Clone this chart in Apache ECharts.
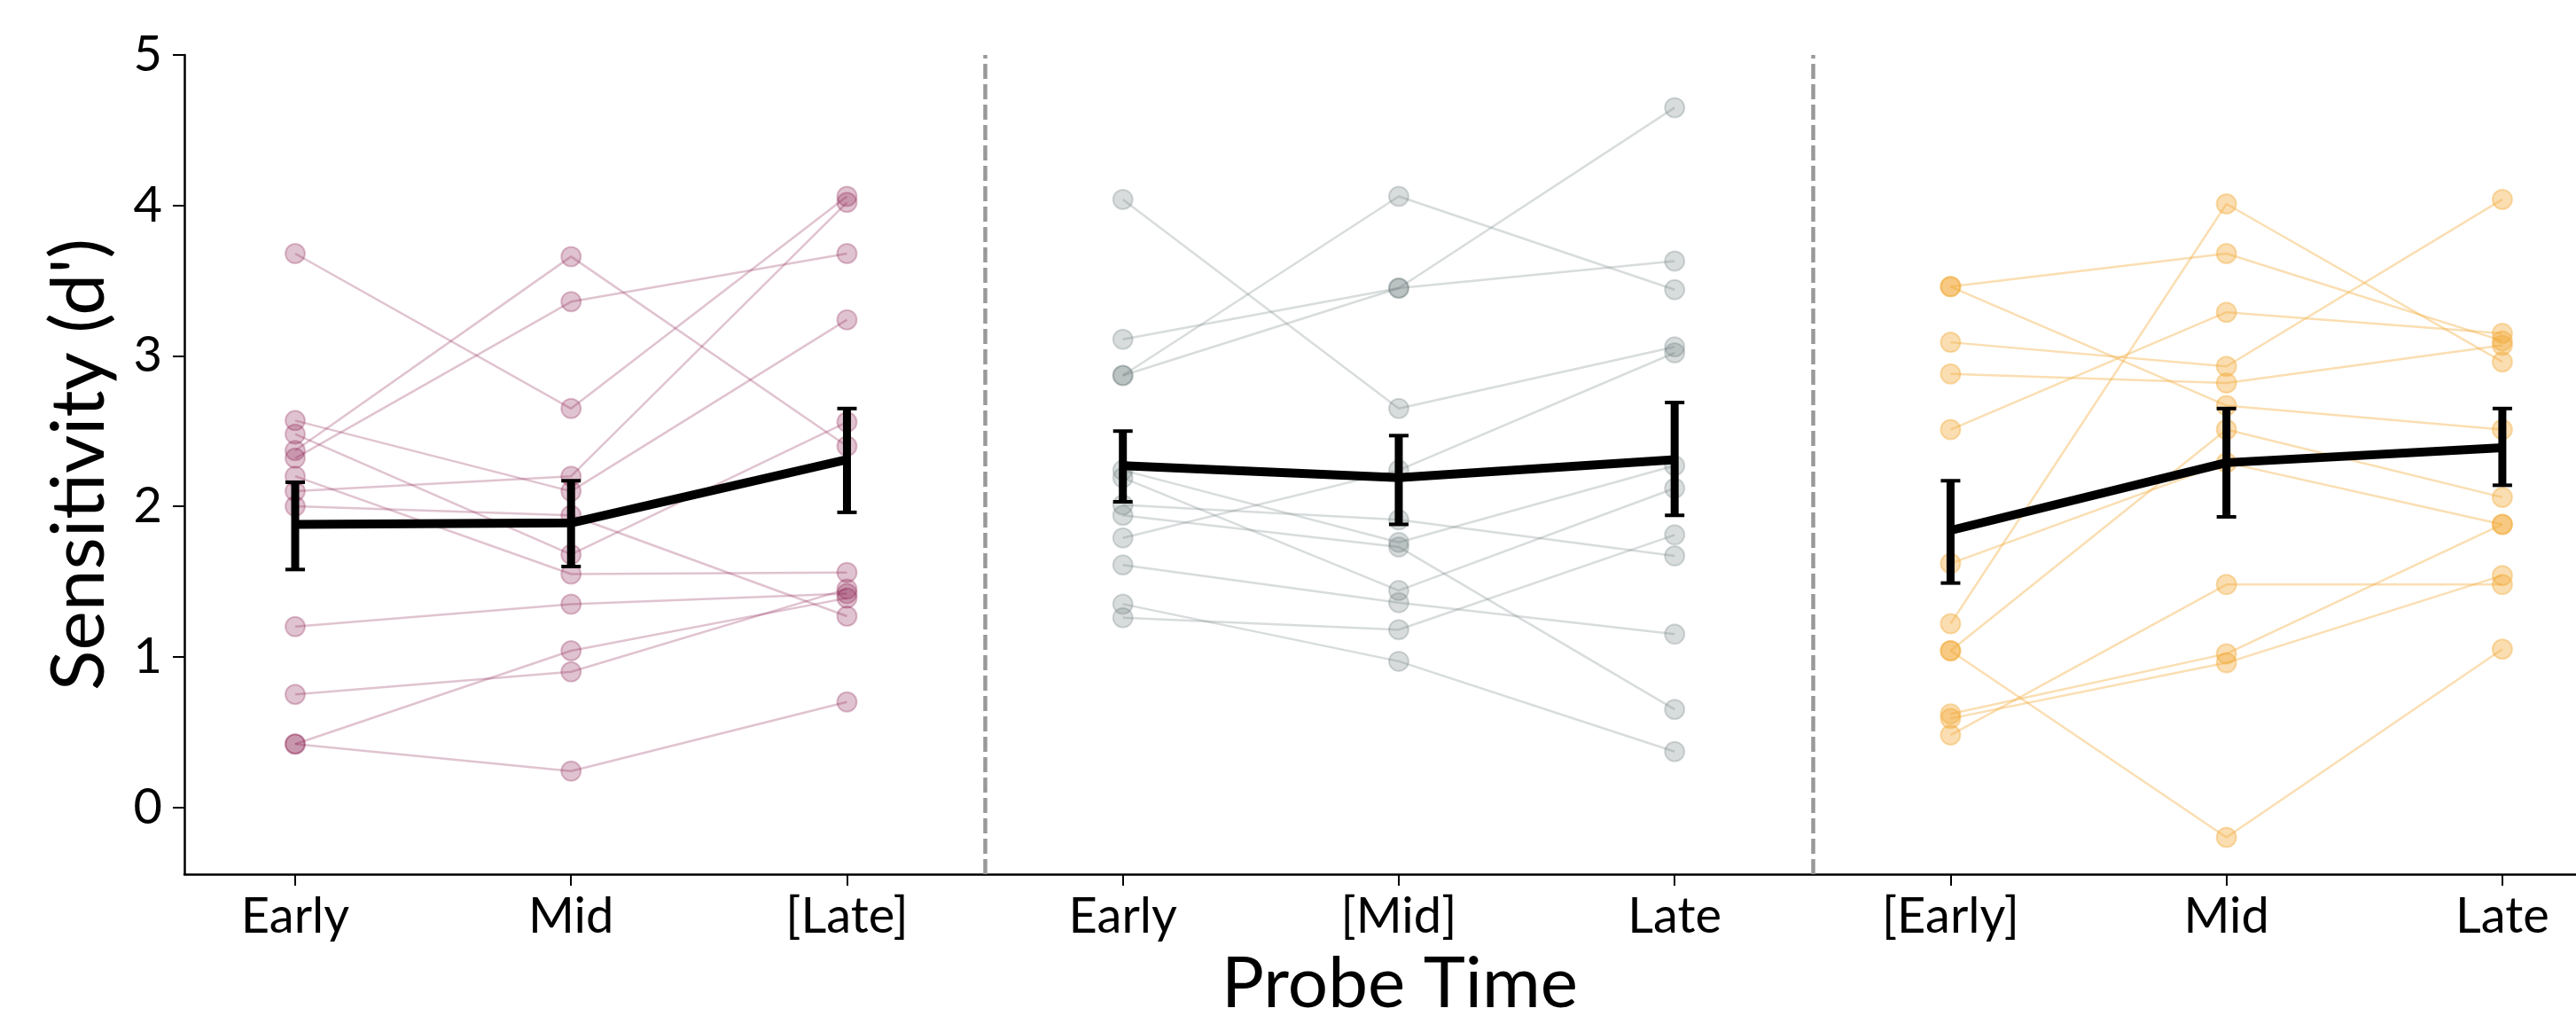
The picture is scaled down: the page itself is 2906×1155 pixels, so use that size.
<!DOCTYPE html>
<html>
<head>
    <meta charset="UTF-8">
    <title>Sensitivity by probe time</title>
    <script type="text/javascript" src="https://cdn.jsdelivr.net/npm/echarts@6/dist/echarts.min.js"></script>
</head>
<body style="margin: 0">
<div id="container" style="width: 2906px; height: 1155px"></div>
<script type="text/javascript">
    // tick labels along the shared x axis (three panels of three)
    const tickLabels = ['Early', 'Mid', '[Late]', 'Early', '[Mid]', 'Late', '[Early]', 'Mid', 'Late'];
    const yTicks = [0, 1, 2, 3, 4, 5];

    // one row per subject: [Early, Mid, Late]
    const panel1 = [
        [3.68, 2.65, 4.06], [2.37, 3.66, 2.40], [2.32, 3.36, 3.68], [2.10, 2.20, 4.02],
        [2.57, 2.10, 3.24], [2.48, 1.68, 2.56], [2.20, 1.55, 1.56], [2.00, 1.94, 1.27],
        [1.20, 1.35, 1.42], [0.75, 0.90, 1.45], [0.42, 1.04, 1.39], [0.42, 0.24, 0.70]
    ];
    const panel2 = [
        [4.04, 2.65, 3.06], [2.87, 4.06, 3.44], [3.11, 3.45, 3.63], [2.87, 3.45, 4.65],
        [1.79, 2.24, 3.02], [2.24, 1.76, 2.27], [2.19, 1.44, 2.12], [2.01, 1.91, 1.67],
        [1.94, 1.73, 0.65], [1.61, 1.36, 1.15], [1.35, 0.97, 0.37], [1.26, 1.18, 1.81]
    ];
    const panel3 = [
        [3.46, 3.68, 3.10], [3.46, 2.67, 2.51], [3.09, 2.93, 4.04], [2.88, 2.82, 3.07],
        [2.51, 3.29, 3.15], [1.22, 4.01, 2.96], [1.04, 2.51, 2.06], [1.62, 2.29, 1.88],
        [1.04, -0.20, 1.05], [0.62, 1.02, 1.88], [0.59, 0.96, 1.54], [0.48, 1.48, 1.48]
    ];

    // group means and error bar ends
    const mean1 = [1.88, 1.89, 2.31];
    const errLow1 = [1.58, 1.60, 1.96];
    const errHigh1 = [2.16, 2.17, 2.65];
    const mean2 = [2.27, 2.19, 2.31];
    const errLow2 = [2.03, 1.88, 1.94];
    const errHigh2 = [2.50, 2.47, 2.69];
    const mean3 = [1.84, 2.29, 2.39];
    const errLow3 = [1.49, 1.93, 2.14];
    const errHigh3 = [2.17, 2.65, 2.65];

    const panels = [panel1, panel2, panel3];
    const means = [mean1, mean2, mean3];
    const lows = [errLow1, errLow2, errLow3];
    const highs = [errHigh1, errHigh2, errHigh3];
    const colors = ['rgba(139, 34, 82, 0.27)', 'rgba(100, 116, 116, 0.25)', 'rgba(242, 168, 52, 0.38)'];

    const font = 'Lato';
    const series = [];

    panels.forEach(function (rows, p) {
        rows.forEach(function (row) {
            series.push({
                type: 'line',
                data: row.map((v, i) => [p * 3 + i, v]),
                symbol: 'circle',
                symbolSize: 22,
                showSymbol: true,
                lineStyle: {color: colors[p], width: 2.5},
                itemStyle: {color: colors[p], borderColor: colors[p], borderWidth: 2},
                emphasis: {disabled: true},
                z: 2
            });
        });
    });

    panels.forEach(function (rows, p) {
        series.push({
            type: 'line',
            data: means[p].map((v, i) => [p * 3 + i, v]),
            showSymbol: false,
            lineStyle: {color: '#000', width: 10},
            emphasis: {disabled: true},
            z: 5,
            markLine: p === 0 ? {
                silent: true,
                symbol: 'none',
                label: {show: false},
                lineStyle: {color: '#999', width: 4.5, type: [17, 6]},
                data: [{xAxis: 2.5}, {xAxis: 5.5}]
            } : undefined
        });
        series.push({
            type: 'custom',
            data: means[p].map((v, i) => [p * 3 + i, lows[p][i], highs[p][i]]),
            encode: {x: 0, y: [1, 2]},
            z: 6,
            renderItem: function (params, api) {
                const top = api.coord([api.value(0), api.value(2)]);
                const bot = api.coord([api.value(0), api.value(1)]);
                const cap = 11;
                return {
                    type: 'group',
                    children: [
                        {type: 'line', shape: {x1: top[0], y1: top[1], x2: bot[0], y2: bot[1]}, style: {stroke: '#000', lineWidth: 9}},
                        {type: 'line', shape: {x1: top[0] - cap, y1: top[1], x2: top[0] + cap, y2: top[1]}, style: {stroke: '#000', lineWidth: 4}},
                        {type: 'line', shape: {x1: bot[0] - cap, y1: bot[1], x2: bot[0] + cap, y2: bot[1]}, style: {stroke: '#000', lineWidth: 4}}
                    ]
                };
            }
        });
    });

    const dom = document.getElementById('container');
    const myChart = echarts.init(dom);
    const option = {
        animation: false,
        backgroundColor: '#fff',
        grid: {left: 208, right: 0, top: 62, bottom: 163},
        xAxis: {
            type: 'value',
            min: -0.4016,
            max: 8.267,
            name: 'Probe Time',
            nameLocation: 'middle',
            nameGap: 84,
            nameTextStyle: {fontFamily: font, fontSize: 80, color: '#000', padding: [0, 0, 0, 44]},
            axisLine: {onZero: false, lineStyle: {color: '#000', width: 2.5}},
            axisTick: {customValues: [0, 1, 2, 3, 4, 5, 6, 7, 8], length: 13, lineStyle: {color: '#000', width: 2}},
            axisLabel: {
                customValues: [0, 1, 2, 3, 4, 5, 6, 7, 8],
                formatter: v => tickLabels[Math.round(v)],
                fontFamily: font, fontSize: 56, color: '#000', margin: 20
            },
            splitLine: {show: false}
        },
        yAxis: {
            type: 'value',
            min: -0.445,
            max: 5,
            name: "Sensitivity (d')",
            nameLocation: 'middle',
            nameRotate: 90,
            nameGap: 76,
            nameTextStyle: {fontFamily: font, fontSize: 84, color: '#000'},
            axisLine: {show: true, onZero: false, lineStyle: {color: '#000', width: 2.5}},
            axisTick: {show: true, customValues: yTicks, length: 13, lineStyle: {color: '#000', width: 2}},
            axisLabel: {customValues: yTicks, fontFamily: font, fontSize: 56, color: '#000', margin: 25},
            splitLine: {show: false}
        },
        series: series
    };

    myChart.setOption(option, true);
</script>
</body>
</html>
